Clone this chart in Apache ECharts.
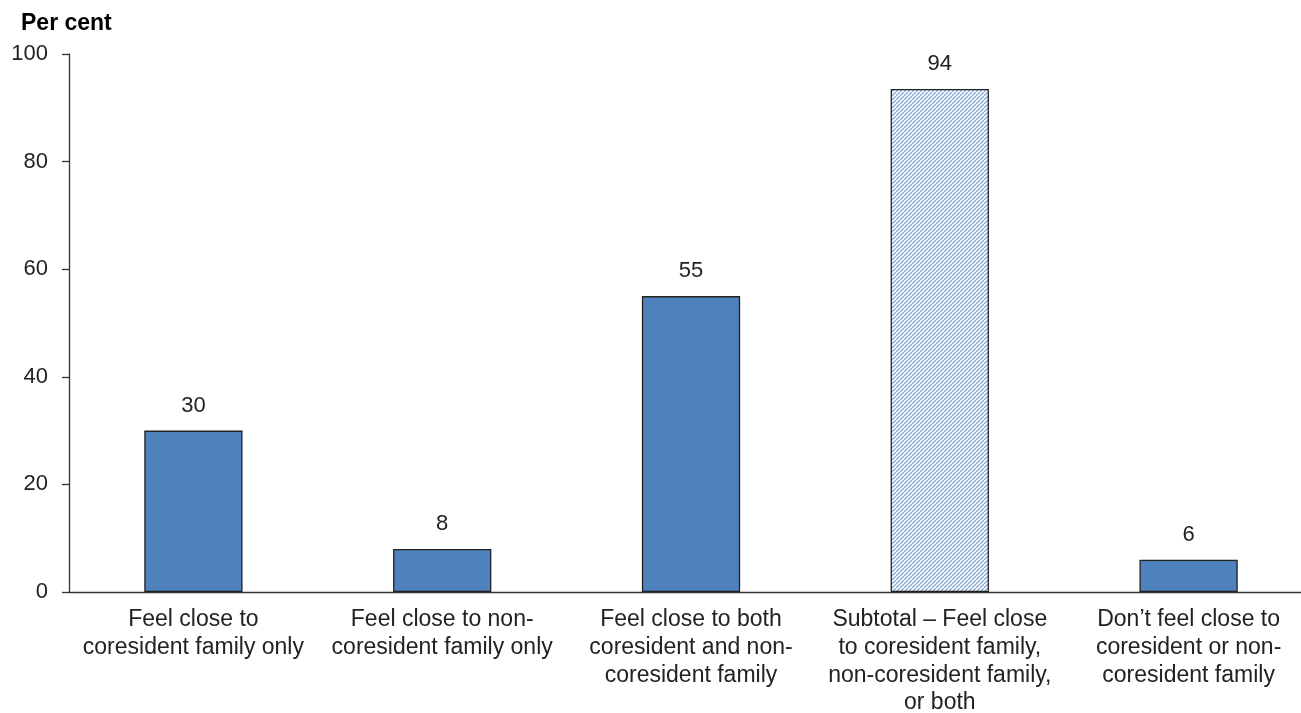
<!DOCTYPE html>
<html><head><meta charset="utf-8">
<script src="https://cdn.jsdelivr.net/npm/echarts@6/dist/echarts.min.js"></script>
<style>html,body{margin:0;padding:0;background:#fff}#c{width:1301px;height:713px}</style>
</head><body><div id="c"></div>
<script>
const categories = [
  "Feel close to\ncoresident family only",
  "Feel close to non-\ncoresident family only",
  "Feel close to both\ncoresident and non-\ncoresident family",
  "Subtotal \u2013 Feel close\nto coresident family,\nnon-coresident family,\nor both",
  "Don\u2019t feel close to\ncoresident or non-\ncoresident family"
];
const values = [30, 8, 55, 93.5, 6];
const hatched = [false, false, false, true, false];
const yTicks = [0, 20, 40, 60, 80, 100];

const pc = document.createElement('canvas');
pc.width = 4; pc.height = 4;
const g = pc.getContext('2d');
g.fillStyle = '#fff'; g.fillRect(0,0,4,4);
g.strokeStyle = '#8aaad6'; g.lineWidth = 1.3;
for (let k = -4; k <= 8; k += 4) {
  g.beginPath(); g.moveTo(k, 4); g.lineTo(k + 4, 0); g.stroke();
}

const FONT = 'Liberation Sans, Arial, sans-serif';
const chart = echarts.init(document.getElementById('c'));
chart.setOption({
  animation: false,
  textStyle: {fontFamily: FONT},
  title: {text: 'Per cent', left: 16, top: 7, textStyle: {fontSize: 23, fontWeight: 'bold', color: '#000', fontFamily: FONT}},
  grid: {left: 69, top: 54, height: 538, width: 1244, containLabel: false, outerBoundsMode: 'none'},
  xAxis: {
    type: 'category', data: categories,
    axisLine: {lineStyle: {color: '#333', width: 1.3}},
    axisTick: {show: false},
    axisLabel: {color: '#222', fontSize: 23, lineHeight: 27.7, margin: 14, interval: 0}
  },
  yAxis: {
    type: 'value', min: yTicks[0], max: yTicks[yTicks.length-1], interval: 20,
    axisLine: {show: true, lineStyle: {color: '#333', width: 1.3}},
    axisTick: {show: true, length: 7, lineStyle: {color: '#333', width: 1.3}},
    splitLine: {show: false},
    axisLabel: {color: '#222', fontSize: 22, margin: 21}
  },
  series: [{
    type: 'bar', barWidth: '39.5%',
    data: values.map((v, i) => ({
      value: v,
      itemStyle: hatched[i] ? {color: {image: pc, repeat: 'repeat'}, borderColor: '#222', borderWidth: 1.3}
                            : {color: '#4F81BD', borderColor: '#222', borderWidth: 1.3}
    })),
    label: {show: true, position: 'top', distance: 14, color: '#222', fontSize: 22,
            formatter: p => Math.round(p.value)}
  }]
});
</script></body></html>
